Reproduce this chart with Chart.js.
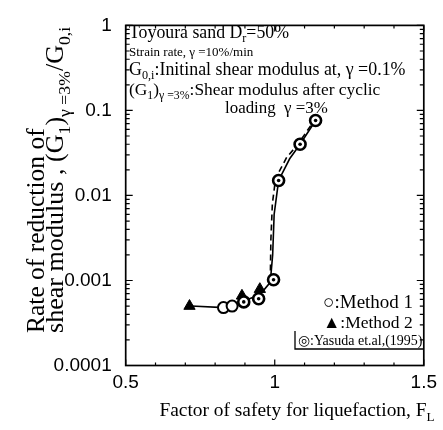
<!DOCTYPE html>
<html><head><meta charset="utf-8">
<script src="https://cdn.jsdelivr.net/npm/chart.js@4.4.1/dist/chart.umd.min.js"></script>
<style>html,body{margin:0;padding:0;background:#fff}</style>
</head><body>
<canvas id="c" width="443" height="430"></canvas>
<script>
// ---- data ----
const method1X = [0.828, 0.857];
const method1Y = [0.00048, 0.0005];
const method2X = [0.714, 0.89, 0.95];
const method2Y = [0.0005, 0.00066, 0.00079];
const yasudaX = [0.896, 0.946, 0.996, 1.013, 1.085, 1.137];
const yasudaY = [0.00056, 0.00061, 0.00102, 0.015, 0.04, 0.076];
const solidX = [0.72, 0.83, 0.86, 0.90, 0.95, 0.985, 0.993, 0.998, 1.013, 1.05, 1.085, 1.137];
const solidY = [0.0005, 0.00048, 0.0005, 0.00058, 0.00068, 0.00095, 0.002, 0.006, 0.015, 0.027, 0.04, 0.076];
const dashX = [0.985, 0.987, 0.992, 1.003, 1.04, 1.078, 1.13];
const dashY = [0.001, 0.003, 0.008, 0.016, 0.028, 0.04, 0.074];
const xTickLabels = [0.5, 1, 1.5];
const yTickLabels = [1, 0.1, 0.01, 0.001, 0.0001];

const pts = (xs, ys) => xs.map((x, i) => ({x, y: ys[i]}));
const SERIF = "'Liberation Serif', 'Times New Roman', serif";

function fontFor(size, isSub) {
  const s = Math.round((isSub ? size * 0.68 : size) * 10) / 10;
  return s + 'px ' + SERIF;
}
function measureRich(ctx, segs, size) {
  let w = 0;
  segs.forEach(s => { ctx.font = fontFor(size, s[1]); w += ctx.measureText(s[0]).width; });
  return w;
}
function drawSized(ctx, segs, x, y, size, align) {
  const w = measureRich(ctx, segs, size);
  let cx = align === 'center' ? x - w / 2 : (align === 'right' ? x - w : x);
  ctx.textAlign = 'left';
  ctx.textBaseline = 'alphabetic';
  segs.forEach(s => {
    ctx.font = fontFor(size, s[1]);
    ctx.fillText(s[0], cx, y + (s[1] ? size * 0.25 : 0));
    cx += ctx.measureText(s[0]).width;
  });
  return w;
}
// draw rich text scaled so that it spans targetW pixels
function drawFit(ctx, segs, x, y, targetW, align) {
  const size = Math.round(200 * targetW / measureRich(ctx, segs, 20)) / 10;
  return drawSized(ctx, segs, x, y, size, align);
}

const annot = {
  id: 'annot',
  afterDraw(chart) {
    const ctx = chart.ctx, xs = chart.scales.x, ys = chart.scales.y;
    const L = xs.getPixelForValue(0.5), R = xs.getPixelForValue(1.5);
    const T = ys.getPixelForValue(1), B = ys.getPixelForValue(0.0001);
    ctx.save();
    ctx.strokeStyle = '#000'; ctx.fillStyle = '#000';
    ctx.lineWidth = 1.7;
    ctx.strokeRect(L, T, R - L, B - T);
    ctx.lineWidth = 1.2;
    for (let i = 0; i <= 10; i++) {
      const v = 0.5 + i * 0.1;
      const p = xs.getPixelForValue(v);
      const len = (i % 5 === 0) ? 6 : 3;
      ctx.beginPath();
      ctx.moveTo(p, B); ctx.lineTo(p, B - len);
      ctx.moveTo(p, T); ctx.lineTo(p, T + len);
      ctx.stroke();
    }
    for (let k = -4; k <= 0; k++) {
      for (let m = 1; m <= 9; m++) {
        const v = m * Math.pow(10, k);
        if (v > 1.0000001) break;
        const p = ys.getPixelForValue(v);
        const len = m === 1 ? 7 : 4;
        ctx.beginPath();
        ctx.moveTo(L, p); ctx.lineTo(L + len, p);
        ctx.moveTo(R, p); ctx.lineTo(R - len, p);
        ctx.stroke();
      }
    }
    // description text, upper left
    drawFit(ctx, [['Toyoura sand D'], ['r', 1], ['=50%']], 129, 38, 160);
    drawSized(ctx, [['Strain rate, \u03B3 =10%/min']], 129, 56, 13);
    drawFit(ctx, [['G'], ['0,i', 1], [':Initinal shear modulus at, \u03B3 =0.1%']], 129, 75, 277);
    drawFit(ctx, [['(G'], ['1', 1], [')'], ['\u03B3 =3%', 1], [':Shear modulus after cyclic']], 129, 95, 252);
    drawFit(ctx, [['loading  \u03B3 =3%']], 225, 113, 103);
    // legend, lower right
    drawFit(ctx, [['\u25CB:Method 1']], 323, 308, 90);
    drawFit(ctx, [['\u25B2:Method 2']], 323, 328, 90);
    drawFit(ctx, [['\u25CE:Yasuda et.al,(1995)']], 298, 345, 124);
    ctx.lineWidth = 1.3;
    ctx.beginPath();
    ctx.moveTo(295, 331); ctx.lineTo(295, 349); ctx.lineTo(R, 349);
    ctx.stroke();
    // x title
    drawFit(ctx, [['Factor of safety for liquefaction, F'], ['L', 1]], 297, 416, 275, 'center');
    // y title (rotated, two lines)
    ctx.save();
    ctx.translate(44, 333); ctx.rotate(-Math.PI / 2);
    drawFit(ctx, [['Rate of reduction of']], 0, 0, 205);
    ctx.restore();
    ctx.save();
    ctx.translate(63, 333); ctx.rotate(-Math.PI / 2);
    drawFit(ctx, [['shear modulus , (G'], ['1', 1], [')'], ['\u03B3 =3%', 1], ['/G'], ['0,i', 1]], 0, 0, 306);
    ctx.restore();
    ctx.restore();
  }
};

const isPow10 = v => Math.abs(Math.log10(v) - Math.round(Math.log10(v))) < 1e-9;

new Chart(document.getElementById('c'), {
  type: 'scatter',
  data: {
    datasets: [
      { label: 'solid', data: pts(solidX, solidY), showLine: true, borderColor: '#000', borderWidth: 1.6, pointRadius: 0, fill: false, order: 5 },
      { label: 'dashed', data: pts(dashX, dashY), showLine: true, borderColor: '#000', borderWidth: 1.6, borderDash: [6, 4], pointRadius: 0, fill: false, order: 5 },
      { label: 'Method 2', data: pts(method2X, method2Y), pointStyle: 'triangle', pointRadius: 6.5, backgroundColor: '#000', borderColor: '#000', borderWidth: 1, order: 3 },
      { label: 'Method 1', data: pts(method1X, method1Y), pointStyle: 'circle', pointRadius: 5.5, backgroundColor: '#fff', borderColor: '#000', borderWidth: 2, order: 2 },
      { label: 'Yasuda', data: pts(yasudaX, yasudaY), pointStyle: 'circle', pointRadius: 5.5, backgroundColor: '#fff', borderColor: '#000', borderWidth: 2.6, order: 1 },
      { label: 'Yasuda inner', data: pts(yasudaX, yasudaY), pointStyle: 'circle', pointRadius: 1.8, backgroundColor: '#000', borderColor: '#000', borderWidth: 0, order: 0 }
    ]
  },
  options: {
    responsive: false,
    animation: false,
    devicePixelRatio: 1,
    layout: { autoPadding: false, padding: { top: 16, right: 16, left: 0, bottom: 0 } },
    plugins: { legend: { display: false }, tooltip: { enabled: false } },
    scales: {
      x: {
        type: 'linear', min: 0.5, max: 1.5,
        afterFit: s => { s.height = 64.5; },
        afterBuildTicks: s => { s.ticks = xTickLabels.map(v => ({ value: v })); },
        grid: { display: false, drawTicks: false },
        border: { display: false },
        ticks: { color: '#000', padding: 6, maxRotation: 0, autoSkip: false,
          font: { family: "'Liberation Sans', Arial, sans-serif", size: 19 },
          callback: v => String(v) }
      },
      y: {
        type: 'logarithmic', min: 0.0001, max: 1,
        afterFit: s => { s.width = 125.7; },
        afterBuildTicks: s => { s.ticks = yTickLabels.map(v => ({ value: v })); },
        grid: { display: false, drawTicks: false },
        border: { display: false },
        ticks: { color: '#000', padding: 14, autoSkip: false,
          font: { family: "'Liberation Sans', Arial, sans-serif", size: 19 },
          callback: v => isPow10(v) ? String(v) : '' }
      }
    }
  },
  plugins: [annot]
});
</script>
</body></html>
